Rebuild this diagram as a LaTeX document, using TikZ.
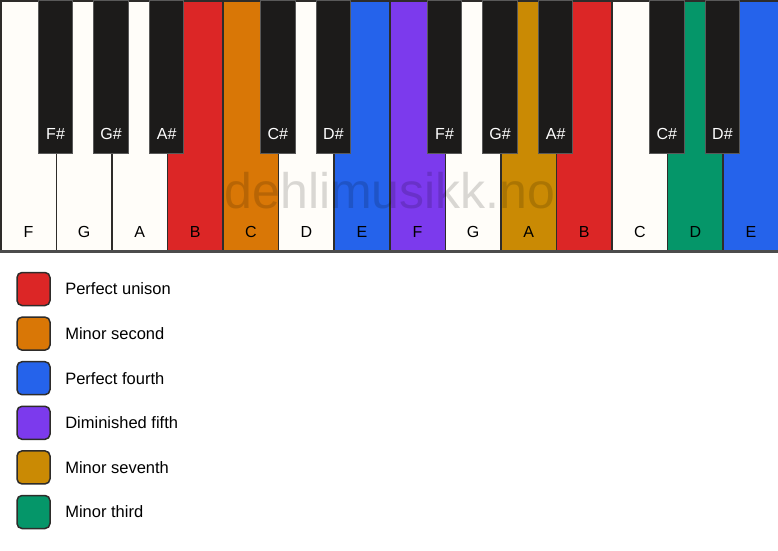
\documentclass[tikz,border=0pt]{standalone}
\usepackage{fontspec}
\setmainfont{Liberation Sans}
\usetikzlibrary{positioning}
\definecolor{keywhite}{HTML}{FFFDF9}
\definecolor{keyblack}{HTML}{1C1B1A}
\definecolor{keyedge}{HTML}{2E2C2A}
\definecolor{intred}{HTML}{DC2626}
\definecolor{intorange}{HTML}{D97706}
\definecolor{intblue}{HTML}{2563EB}
\definecolor{intpurple}{HTML}{7C3AED}
\definecolor{intgold}{HTML}{CA8A04}
\definecolor{intgreen}{HTML}{059669}
\begin{document}
\begin{tikzpicture}[
       x=1pt, y=-1pt,
       whitekey/.style={rectangle, draw=keyedge, line width=1.5pt, minimum width=55.57pt, minimum height=250pt, anchor=north west, inner sep=0pt},
       blackkey/.style={rectangle, draw=gray!70!black, line width=1pt, fill=keyblack, minimum width=34.5pt, minimum height=153pt, anchor=north, inner sep=0pt},
       keylabel/.style={font=\fontsize{16}{19}\selectfont},
       swatch/.style={rectangle, draw=keyedge, line width=1.5pt, rounded corners=5pt, minimum size=33pt, inner sep=0pt},
       legendtext/.style={font=\fontsize{16.5}{20}\selectfont, anchor=west}
   ]
   \useasboundingbox (0,0) rectangle (778,550);
   \fill[white] (0,0) rectangle (778,550);

   % white keys
   \foreach \n/\c [count=\i from 0] in {F/keywhite, G/keywhite, A/keywhite, B/intred, C/intorange, D/keywhite, E/intblue, F/intpurple, G/keywhite, A/intgold, B/intred, C/keywhite, D/intgreen, E/intblue} {
       \node[whitekey, fill=\c] (w\i) at (\i*55.571,0) {};
       \node[keylabel] (lw\i) at ([yshift=20pt]w\i.south) {\n};
   }
   \draw[gray!60!black, line width=2.5pt] (w0.south west) -- (w13.south east);

   % black keys
   \foreach \i/\n in {1/F\#, 2/G\#, 3/A\#, 5/C\#, 6/D\#, 8/F\#, 9/G\#, 10/A\#, 12/C\#, 13/D\#} {
       \node[blackkey] (b\i) at (w\i.north west) {};
       \node[keylabel, text=white] (lb\i) at ([yshift=20pt]b\i.south) {\n};
   }

   \node[font=\fontsize{50}{60}\selectfont, text=black, text opacity=0.15, anchor=base] (wm) at (390,208) {dehlimusikk.no};

   % legend
   \foreach \c/\t [count=\i from 0] in {intred/Perfect unison, intorange/Minor second, intblue/Perfect fourth, intpurple/Diminished fifth, intgold/Minor seventh, intgreen/Minor third} {
       \node[swatch, fill=\c] (s\i) at (33.5,289+\i*44.6) {};
       \node[legendtext, right=11pt of s\i] (t\i) {\t};
   }
\end{tikzpicture}
\end{document}
